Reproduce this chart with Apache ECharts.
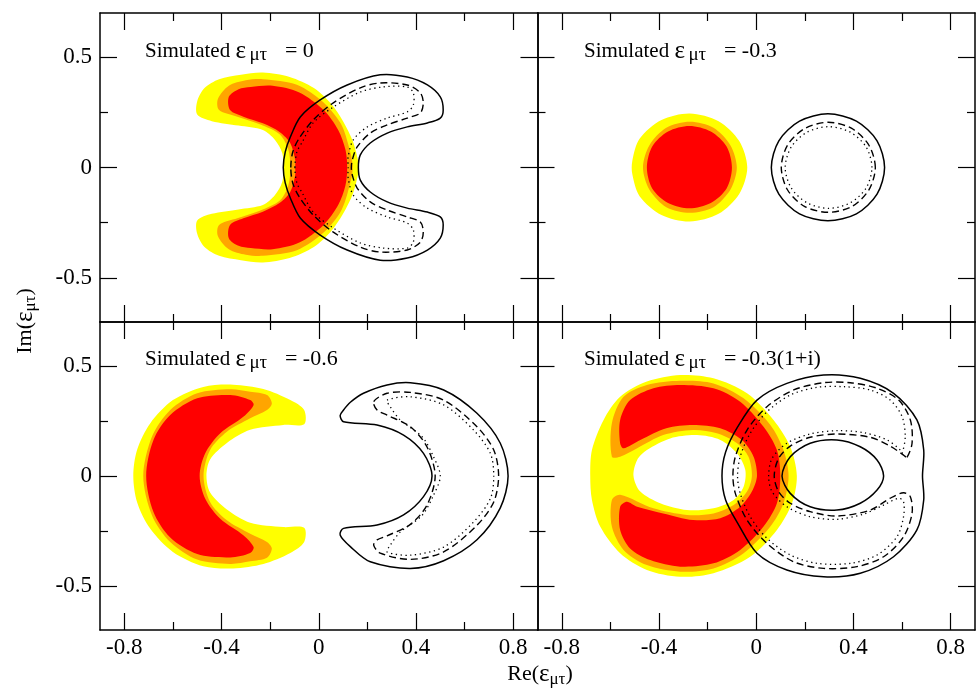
<!DOCTYPE html>
<html><head><meta charset="utf-8">
<script src="https://cdn.jsdelivr.net/npm/echarts@6/dist/echarts.min.js"></script>
<style>html,body{margin:0;padding:0;background:#fff}#c{width:976px;height:695px}</style>
</head><body><div id="c"></div>
<script>
// ---------- ticks ----------
const xMajorTicks = [-0.8, -0.4, 0, 0.4, 0.8];
const xMinorTicks = [-0.6, -0.2, 0.2, 0.6];
const yMajorTicks = [-0.5, 0, 0.5];
const yMinorTicks = [-0.25, 0.25];
const panelValues = ['0', '-0.3', '-0.6', '-0.3(1+i)'];

// ---------- panel 1 : simulated 0 ----------
const p1Yellow = [[-0.50,0.30],[-0.47,0.36],[-0.41,0.40],[-0.32,0.42],[-0.23,0.43],[-0.12,0.41],[-0.02,0.36],[0.05,0.29],[0.10,0.21],[0.14,0.12],[0.16,0.04],[0.165,0.0],[0.16,-0.04],[0.14,-0.12],[0.10,-0.21],[0.05,-0.29],[-0.02,-0.36],[-0.12,-0.41],[-0.23,-0.43],[-0.32,-0.42],[-0.41,-0.40],[-0.47,-0.36],[-0.50,-0.30],[-0.50,-0.24],[-0.44,-0.21],[-0.33,-0.19],[-0.23,-0.17],[-0.18,-0.125],[-0.15,-0.065],[-0.145,0.0],[-0.15,0.065],[-0.18,0.125],[-0.23,0.17],[-0.33,0.19],[-0.44,0.21],[-0.50,0.24]];
const p1Orange = [[-0.415,0.31],[-0.37,0.37],[-0.30,0.395],[-0.23,0.40],[-0.09,0.375],[0.02,0.295],[0.09,0.20],[0.12,0.11],[0.14,0.0],[0.12,-0.11],[0.09,-0.20],[0.02,-0.295],[-0.09,-0.375],[-0.23,-0.40],[-0.30,-0.395],[-0.37,-0.37],[-0.415,-0.31],[-0.41,-0.26],[-0.335,-0.23],[-0.24,-0.195],[-0.16,-0.15],[-0.125,-0.08],[-0.117,0.0],[-0.125,0.08],[-0.16,0.15],[-0.24,0.195],[-0.335,0.23],[-0.41,0.26]];
const p1Red = [[-0.37,0.32],[-0.33,0.355],[-0.28,0.365],[-0.19,0.37],[-0.08,0.34],[0.02,0.26],[0.08,0.17],[0.11,0.08],[0.117,0.0],[0.11,-0.08],[0.08,-0.17],[0.02,-0.26],[-0.08,-0.34],[-0.19,-0.37],[-0.28,-0.365],[-0.33,-0.355],[-0.37,-0.32],[-0.365,-0.26],[-0.31,-0.23],[-0.23,-0.20],[-0.16,-0.16],[-0.117,-0.11],[-0.097,-0.035],[-0.097,0.0],[-0.097,0.035],[-0.117,0.11],[-0.16,0.16],[-0.23,0.20],[-0.31,0.23],[-0.365,0.26]];
const p1Solid = [[-0.146,0.0],[-0.138,0.07],[-0.117,0.138],[-0.076,0.229],[0.006,0.306],[0.117,0.374],[0.253,0.42],[0.364,0.41],[0.447,0.374],[0.50,0.32],[0.512,0.261],[0.50,0.224],[0.447,0.202],[0.364,0.184],[0.282,0.156],[0.212,0.111],[0.171,0.057],[0.163,0.0],[0.171,-0.057],[0.212,-0.111],[0.282,-0.156],[0.364,-0.184],[0.447,-0.202],[0.50,-0.224],[0.512,-0.261],[0.50,-0.32],[0.447,-0.374],[0.364,-0.41],[0.253,-0.42],[0.117,-0.374],[0.006,-0.306],[-0.076,-0.229],[-0.117,-0.138],[-0.138,-0.07]];
const p1Dashed = [[-0.115,0.0],[-0.107,0.07],[-0.082,0.13],[-0.023,0.215],[0.06,0.293],[0.171,0.361],[0.253,0.383],[0.364,0.374],[0.418,0.338],[0.43,0.293],[0.418,0.247],[0.364,0.224],[0.282,0.193],[0.212,0.156],[0.158,0.093],[0.138,0.034],[0.134,0.0],[0.138,-0.034],[0.158,-0.093],[0.212,-0.156],[0.282,-0.193],[0.364,-0.224],[0.418,-0.247],[0.43,-0.293],[0.418,-0.338],[0.364,-0.374],[0.253,-0.383],[0.171,-0.361],[0.06,-0.293],[-0.023,-0.215],[-0.082,-0.13],[-0.107,-0.07]];
const p1Dotted = [[-0.098,0.0],[-0.09,0.07],[-0.068,0.115],[-0.023,0.202],[0.06,0.274],[0.171,0.342],[0.265,0.365],[0.364,0.365],[0.389,0.338],[0.389,0.283],[0.364,0.252],[0.282,0.224],[0.2,0.184],[0.142,0.125],[0.121,0.048],[0.121,0.0],[0.121,-0.048],[0.142,-0.125],[0.2,-0.184],[0.282,-0.224],[0.364,-0.252],[0.389,-0.283],[0.389,-0.338],[0.364,-0.365],[0.265,-0.365],[0.171,-0.342],[0.06,-0.274],[-0.023,-0.202],[-0.068,-0.115],[-0.09,-0.07]];

// ---------- panel 2 : simulated -0.3 ----------
const p2Yellow = [[-0.037,0.0],[-0.07,0.12],[-0.155,0.21],[-0.274,0.245],[-0.39,0.215],[-0.48,0.13],[-0.51,0.03],[-0.51,-0.03],[-0.48,-0.13],[-0.39,-0.215],[-0.274,-0.245],[-0.155,-0.21],[-0.07,-0.12]];
const p2Orange = [[-0.08,0.0],[-0.106,0.10],[-0.176,0.18],[-0.273,0.207],[-0.37,0.18],[-0.44,0.10],[-0.466,0.0],[-0.44,-0.10],[-0.37,-0.18],[-0.273,-0.205],[-0.176,-0.18],[-0.106,-0.10]];
const p2Red = [[-0.10,0.0],[-0.122,0.095],[-0.187,0.163],[-0.275,0.188],[-0.363,0.163],[-0.428,0.095],[-0.45,0.0],[-0.428,-0.095],[-0.363,-0.161],[-0.275,-0.185],[-0.187,-0.161],[-0.122,-0.095]];
const p2Solid = [[0.528,0.0],[0.497,0.121],[0.412,0.21],[0.295,0.243],[0.178,0.21],[0.093,0.121],[0.062,0.0],[0.093,-0.121],[0.178,-0.21],[0.295,-0.241],[0.412,-0.21],[0.497,-0.121]];
const p2Dashed = [[0.49,0.0],[0.463,0.102],[0.393,0.177],[0.296,0.205],[0.2,0.177],[0.129,0.102],[0.103,0.0],[0.129,-0.102],[0.2,-0.177],[0.296,-0.203],[0.393,-0.177],[0.463,-0.102]];
const p2Dotted = [[0.476,0.0],[0.452,0.093],[0.387,0.16],[0.298,0.185],[0.209,0.16],[0.144,0.093],[0.119,0.0],[0.144,-0.093],[0.209,-0.16],[0.298,-0.185],[0.387,-0.16],[0.452,-0.093]];

// ---------- panel 3 : simulated -0.6 ----------
const p3Yellow = [[-0.06,0.30],[-0.117,0.345],[-0.228,0.395],[-0.352,0.415],[-0.475,0.405],[-0.60,0.345],[-0.693,0.24],[-0.747,0.12],[-0.763,0.0],[-0.747,-0.12],[-0.693,-0.24],[-0.60,-0.345],[-0.475,-0.41],[-0.352,-0.42],[-0.228,-0.40],[-0.117,-0.35],[-0.06,-0.30],[-0.06,-0.235],[-0.146,-0.232],[-0.282,-0.212],[-0.378,-0.152],[-0.447,-0.075],[-0.462,0.0],[-0.447,0.075],[-0.378,0.15],[-0.282,0.21],[-0.146,0.232],[-0.06,0.235]];
const p3Orange = [[-0.193,0.33],[-0.213,0.368],[-0.282,0.383],[-0.364,0.394],[-0.50,0.376],[-0.611,0.30],[-0.686,0.179],[-0.722,0.0],[-0.686,-0.179],[-0.611,-0.30],[-0.50,-0.38],[-0.364,-0.40],[-0.282,-0.388],[-0.213,-0.372],[-0.193,-0.33],[-0.213,-0.30],[-0.282,-0.262],[-0.378,-0.201],[-0.447,-0.118],[-0.474,0.0],[-0.447,0.118],[-0.378,0.201],[-0.282,0.262],[-0.213,0.30]];
const p3Red = [[-0.268,0.323],[-0.282,0.345],[-0.364,0.368],[-0.50,0.353],[-0.611,0.277],[-0.68,0.164],[-0.71,0.0],[-0.68,-0.164],[-0.611,-0.28],[-0.50,-0.355],[-0.364,-0.37],[-0.282,-0.35],[-0.268,-0.323],[-0.309,-0.27],[-0.405,-0.194],[-0.467,-0.103],[-0.49,0.0],[-0.467,0.103],[-0.405,0.194],[-0.309,0.27]];
const p3Solid = [[0.102,0.30],[0.13,0.335],[0.184,0.376],[0.281,0.414],[0.377,0.424],[0.514,0.391],[0.651,0.285],[0.747,0.149],[0.779,0.0],[0.747,-0.145],[0.651,-0.29],[0.514,-0.385],[0.377,-0.42],[0.212,-0.39],[0.13,-0.321],[0.088,-0.268],[0.102,-0.238],[0.24,-0.223],[0.349,-0.177],[0.431,-0.094],[0.466,0.0],[0.431,0.103],[0.349,0.186],[0.24,0.232],[0.102,0.247],[0.088,0.275]];
const p3Dashed = [[0.226,0.338],[0.281,0.376],[0.377,0.38],[0.514,0.345],[0.651,0.224],[0.72,0.118],[0.74,0.0],[0.72,-0.118],[0.651,-0.224],[0.514,-0.345],[0.377,-0.379],[0.253,-0.351],[0.226,-0.314],[0.24,-0.29],[0.281,-0.272],[0.377,-0.22],[0.445,-0.133],[0.479,0.0],[0.445,0.133],[0.377,0.224],[0.281,0.277],[0.24,0.30]];
const p3Dotted = [[0.281,0.345],[0.377,0.36],[0.514,0.323],[0.637,0.209],[0.706,0.103],[0.72,0.0],[0.706,-0.103],[0.637,-0.209],[0.514,-0.323],[0.377,-0.36],[0.281,-0.345],[0.294,-0.315],[0.335,-0.255],[0.425,-0.179],[0.472,-0.088],[0.50,0.0],[0.472,0.088],[0.425,0.179],[0.335,0.255],[0.294,0.315]];

// ---------- panel 4 : simulated -0.3(1+i) ----------
const p4Yellow = [[-0.683,0.0],[-0.676,0.118],[-0.628,0.255],[-0.56,0.36],[-0.45,0.429],[-0.313,0.459],[-0.176,0.444],[-0.038,0.376],[0.071,0.255],[0.14,0.133],[0.167,0.0],[0.147,-0.124],[0.085,-0.245],[-0.025,-0.367],[-0.176,-0.442],[-0.313,-0.458],[-0.45,-0.427],[-0.56,-0.351],[-0.642,-0.23],[-0.676,-0.109]];
const p4Hole = [[-0.505,0.0],[-0.49,0.073],[-0.45,0.118],[-0.354,0.171],[-0.244,0.186],[-0.148,0.164],[-0.079,0.103],[-0.045,0.027],[-0.052,-0.049],[-0.093,-0.109],[-0.176,-0.147],[-0.285,-0.155],[-0.395,-0.124],[-0.477,-0.071]];
const p4Orange = [[-0.594,0.24],[-0.546,0.36],[-0.45,0.414],[-0.313,0.433],[-0.176,0.421],[-0.052,0.353],[0.058,0.232],[0.112,0.118],[0.133,0.0],[0.112,-0.124],[0.058,-0.23],[-0.052,-0.351],[-0.176,-0.42],[-0.313,-0.435],[-0.45,-0.405],[-0.546,-0.336],[-0.594,-0.23],[-0.594,-0.109],[-0.56,-0.085],[-0.423,-0.147],[-0.285,-0.177],[-0.176,-0.17],[-0.093,-0.132],[-0.038,-0.071],[-0.018,0.0],[-0.032,0.088],[-0.079,0.149],[-0.162,0.194],[-0.26,0.209],[-0.383,0.186],[-0.49,0.126],[-0.56,0.088],[-0.594,0.088]];
const p4Red = [[-0.56,0.255],[-0.519,0.345],[-0.423,0.399],[-0.313,0.414],[-0.176,0.399],[-0.066,0.338],[0.03,0.224],[0.085,0.118],[0.099,0.0],[0.085,-0.124],[0.03,-0.23],[-0.066,-0.336],[-0.176,-0.397],[-0.313,-0.412],[-0.436,-0.382],[-0.519,-0.329],[-0.56,-0.245],[-0.56,-0.14],[-0.532,-0.117],[-0.49,-0.14],[-0.383,-0.17],[-0.26,-0.2],[-0.148,-0.192],[-0.066,-0.14],[-0.018,-0.071],[0.003,0.0],[-0.011,0.088],[-0.059,0.164],[-0.148,0.217],[-0.26,0.232],[-0.37,0.217],[-0.477,0.164],[-0.546,0.126],[-0.56,0.149]];
const p4SolidOuter = [[-0.141,0.0],[-0.126,0.109],[-0.076,0.224],[0.003,0.345],[0.126,0.421],[0.277,0.459],[0.428,0.444],[0.565,0.376],[0.661,0.255],[0.689,0.118],[0.684,0.0],[0.689,-0.109],[0.661,-0.245],[0.565,-0.367],[0.428,-0.442],[0.277,-0.458],[0.126,-0.427],[0.003,-0.351],[-0.076,-0.215],[-0.126,-0.109]];
const p4SolidInner = [[0.106,0.0],[0.14,0.088],[0.222,0.149],[0.332,0.164],[0.428,0.133],[0.497,0.073],[0.524,0.0],[0.497,-0.064],[0.428,-0.124],[0.332,-0.155],[0.222,-0.14],[0.14,-0.079]];
const p4Dashed = [[0.62,0.085],[0.641,0.149],[0.634,0.255],[0.586,0.345],[0.497,0.399],[0.387,0.424],[0.277,0.424],[0.154,0.391],[0.044,0.315],[-0.038,0.209],[-0.086,0.088],[-0.096,0.0],[-0.086,-0.079],[-0.038,-0.2],[0.044,-0.306],[0.154,-0.39],[0.277,-0.42],[0.414,-0.412],[0.524,-0.367],[0.606,-0.276],[0.641,-0.17],[0.634,-0.094],[0.606,-0.076],[0.551,-0.101],[0.469,-0.155],[0.332,-0.182],[0.222,-0.162],[0.14,-0.124],[0.092,-0.071],[0.074,0.0],[0.092,0.08],[0.14,0.136],[0.222,0.176],[0.332,0.191],[0.469,0.176],[0.551,0.136],[0.606,0.095]];
const p4Dotted = [[0.6,0.103],[0.613,0.179],[0.6,0.27],[0.551,0.345],[0.469,0.391],[0.359,0.406],[0.25,0.403],[0.14,0.368],[0.044,0.292],[-0.025,0.194],[-0.066,0.088],[-0.077,0.0],[-0.066,-0.079],[-0.025,-0.185],[0.044,-0.283],[0.14,-0.359],[0.25,-0.397],[0.387,-0.397],[0.497,-0.359],[0.579,-0.276],[0.606,-0.185],[0.606,-0.117],[0.586,-0.101],[0.524,-0.132],[0.442,-0.173],[0.332,-0.197],[0.222,-0.185],[0.126,-0.14],[0.065,-0.071],[0.051,0.0],[0.065,0.08],[0.126,0.149],[0.222,0.191],[0.332,0.206],[0.442,0.197],[0.538,0.164],[0.593,0.118]];

// ---------- chart ----------
const FONT = 'Liberation Serif';
const YELLOW = '#ffff00', ORANGE = '#ffa500', RED = '#ff0000';
const chart = echarts.init(document.getElementById('c'), null, {renderer: 'canvas'});

const grids = [
  {left: 100, top: 13, width: 437.5, height: 309},
  {left: 537.5, top: 13, width: 437.5, height: 309},
  {left: 100, top: 322, width: 437.5, height: 308},
  {left: 537.5, top: 322, width: 437.5, height: 308}
];

const lineStyle = {color: '#000', width: 1.5};
const tickStyle = {color: '#000', width: 1.2};
const labelStyle = {fontFamily: FONT, fontSize: 23, color: '#000'};
const xAxes = [], yAxes = [];
grids.forEach((g, i) => {
  const bottomRow = i >= 2, leftCol = i % 2 === 0;
  const bx = {type: 'value', gridIndex: i, min: -0.9, max: 0.9, splitLine: {show: false}, minorTick: {show: false}};
  const by = {type: 'value', gridIndex: i, min: -0.7, max: 0.7, splitLine: {show: false}, minorTick: {show: false}};
  const major = vals => ({show: true, inside: true, length: 17, customValues: vals, lineStyle: tickStyle});
  const minor = vals => ({show: true, inside: true, length: 8, customValues: vals, lineStyle: tickStyle});
  xAxes.push(Object.assign({}, bx, {position: 'bottom', axisLine: {show: true, onZero: false, lineStyle}, axisTick: major(xMajorTicks),
    axisLabel: Object.assign({show: bottomRow, customValues: xMajorTicks, margin: 6}, labelStyle)}));
  xAxes.push(Object.assign({}, bx, {position: 'bottom', axisLine: {show: false, onZero: false}, axisTick: minor(xMinorTicks), axisLabel: {show: false}}));
  xAxes.push(Object.assign({}, bx, {position: 'top', axisLine: {show: true, onZero: false, lineStyle}, axisTick: major(xMajorTicks), axisLabel: {show: false}}));
  xAxes.push(Object.assign({}, bx, {position: 'top', axisLine: {show: false, onZero: false}, axisTick: minor(xMinorTicks), axisLabel: {show: false}}));
  yAxes.push(Object.assign({}, by, {position: 'left', axisLine: {show: true, onZero: false, lineStyle}, axisTick: major(yMajorTicks),
    axisLabel: Object.assign({show: leftCol, customValues: yMajorTicks, margin: 8}, labelStyle)}));
  yAxes.push(Object.assign({}, by, {position: 'left', axisLine: {show: false, onZero: false}, axisTick: minor(yMinorTicks), axisLabel: {show: false}}));
  yAxes.push(Object.assign({}, by, {position: 'right', axisLine: {show: true, onZero: false, lineStyle}, axisTick: major(yMajorTicks), axisLabel: {show: false}}));
  yAxes.push(Object.assign({}, by, {position: 'right', axisLine: {show: false, onZero: false}, axisTick: minor(yMinorTicks), axisLabel: {show: false}}));
});

function shape(gridIdx, pts, kind) {
  return {
    type: 'custom', xAxisIndex: gridIdx * 4, yAxisIndex: gridIdx * 4,
    data: pts, encode: {x: 0, y: 1}, silent: true, animation: false,
    renderItem: function (params, api) {
      if (params.dataIndex !== 0) return null;
      const points = pts.map(p => api.coord(p));
      let style;
      if (kind === 'solid') style = {fill: 'none', stroke: '#000', lineWidth: 1.5};
      else if (kind === 'dashed') style = {fill: 'none', stroke: '#000', lineWidth: 1.4, lineDash: [7, 4]};
      else if (kind === 'dotted') style = {fill: 'none', stroke: '#000', lineWidth: 1.3, lineDash: [1.3, 3.5]};
      else style = {fill: kind, stroke: null};
      return {type: 'polygon', shape: {points: points, smooth: 0.3}, style: style};
    }
  };
}

const series = [
  shape(0, p1Yellow, YELLOW), shape(0, p1Orange, ORANGE), shape(0, p1Red, RED),
  shape(0, p1Solid, 'solid'), shape(0, p1Dashed, 'dashed'), shape(0, p1Dotted, 'dotted'),
  shape(1, p2Yellow, YELLOW), shape(1, p2Orange, ORANGE), shape(1, p2Red, RED),
  shape(1, p2Solid, 'solid'), shape(1, p2Dashed, 'dashed'), shape(1, p2Dotted, 'dotted'),
  shape(2, p3Yellow, YELLOW), shape(2, p3Orange, ORANGE), shape(2, p3Red, RED),
  shape(2, p3Solid, 'solid'), shape(2, p3Dashed, 'dashed'), shape(2, p3Dotted, 'dotted'),
  shape(3, p4Yellow, YELLOW), shape(3, p4Hole, '#ffffff'), shape(3, p4Orange, ORANGE), shape(3, p4Red, RED),
  shape(3, p4SolidOuter, 'solid'), shape(3, p4SolidInner, 'solid'), shape(3, p4Dashed, 'dashed'), shape(3, p4Dotted, 'dotted')
];

const rich = {
  n: {fontFamily: FONT, fontSize: 21, lineHeight: 28, fill: '#000'},
  v: {fontFamily: FONT, fontSize: 22, lineHeight: 28, fill: '#000'},
  e: {fontFamily: FONT, fontSize: 25, lineHeight: 28, width: 14, fill: '#000'},
  s: {fontFamily: FONT, fontSize: 19, lineHeight: 10, width: 30, verticalAlign: 'bottom', fill: '#000'},
  e2: {fontFamily: FONT, fontSize: 25, lineHeight: 28, fill: '#000'},
  s2: {fontFamily: FONT, fontSize: 17, lineHeight: 10, verticalAlign: 'bottom', fill: '#000'},
  a: {fontFamily: FONT, fontSize: 22, lineHeight: 28, fill: '#000'}
};
const titlePos = [[145, 37], [584, 37], [145, 345], [584, 345]];
const graphic = titlePos.map((p, i) => ({
  type: 'text', x: p[0], y: p[1], silent: true,
  style: {text: '{n|Simulated }{e|ε}{s|μτ}{v| = ' + panelValues[i] + '}', rich: rich, align: 'left', verticalAlign: 'top', textAlign: 'left', textVerticalAlign: 'top'}
}));
graphic.push({type: 'text', x: 540, y: 660, silent: true,
  style: {text: '{a|Re(}{e2|ε}{s2|μτ}{a|)}', rich: rich, align: 'center', verticalAlign: 'top', textAlign: 'center', textVerticalAlign: 'top'}});
graphic.push({type: 'text', x: 25, y: 321, rotation: Math.PI / 2, silent: true,
  style: {text: '{a|Im(}{e2|ε}{s2|μτ}{a|)}', rich: rich, align: 'center', verticalAlign: 'middle', textAlign: 'center', textVerticalAlign: 'middle'}});

chart.setOption({
  backgroundColor: '#fff',
  animation: false,
  grid: grids,
  xAxis: xAxes,
  yAxis: yAxes,
  series: series,
  graphic: graphic
});
</script>
</body></html>
